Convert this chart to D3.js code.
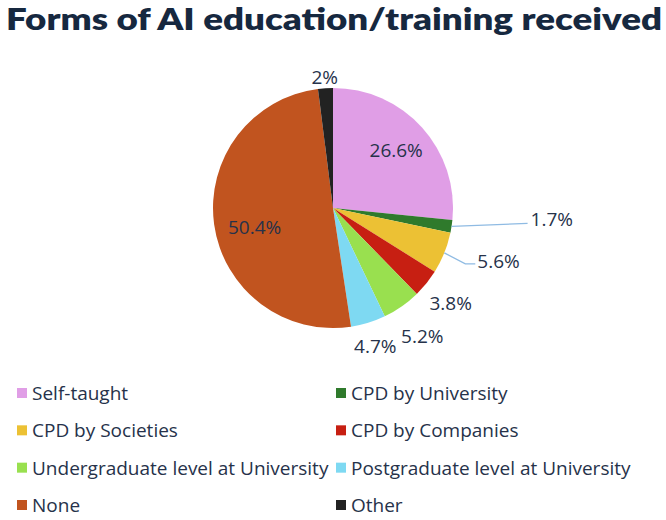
<!DOCTYPE html>
<html lang="en">
<head>
<meta charset="UTF-8">
<title>Forms of AI education/training received</title>
<script src="https://d3js.org/d3.v7.min.js"></script>
<style>
  body { margin: 0; background: #fff; }
  svg text { font-family: 'Open Sans', 'Lato', sans-serif; fill: #26324a; }
</style>
</head>
<body>
<svg width="666" height="520"></svg>
<script>
// data (clockwise from 12 o'clock)
const categories = ["Self-taught", "CPD by University", "CPD by Societies", "CPD by Companies",
  "Undergraduate level at University", "Postgraduate level at University", "None", "Other"];
const shares = [26.6, 1.7, 5.6, 3.8, 5.2, 4.7, 50.4, 2];
const labels = ["26.6%", "1.7%", "5.6%", "3.8%", "5.2%", "4.7%", "50.4%", "2%"];
const colors = ["#e09ee6", "#2f7a2c", "#ecc134", "#c71f12", "#99e04f", "#7ed9f2", "#c1541f", "#222222"];

// label placement: radius factor along slice mid-angle, extra nudge, optional leader
const labelPos = [
  {r: 0.62, dx: 8, dy: -8},
  {r: 1.0, leader: [[76, -3]], dx: 79, dy: -7, anchor: "start"},
  {r: 1.0, leader: [[21, 11], [31, 11]], dx: 33, dy: 8, anchor: "start"},
  {r: 1.26, dx: 0, dy: 0},
  {r: 1.3, dx: 0, dy: 0},
  {r: 1.2, dx: 0, dy: 0},
  {r: 0.66, dx: 0, dy: 8},
  {r: 1.09, dx: 0, dy: 0}
];

const svg = d3.select("svg");
const cx = 333, cy = 208, R = 120;

svg.append("text")
  .attr("x", 6).attr("y", 30)
  .attr("textLength", 656).attr("lengthAdjust", "spacingAndGlyphs")
  .style("font-family", "Lato, sans-serif")
  .style("font-size", "30px").style("font-weight", 800)
  .style("fill", "#16283f")
  .text("Forms of AI education/training received");

const pie = d3.pie().sort(null).value(d => d);
const arcs = pie(shares);
const arc = d3.arc().innerRadius(0).outerRadius(R);

const g = svg.append("g").attr("transform", `translate(${cx},${cy})`);

g.selectAll("path.slice")
  .data(arcs)
  .join("path")
  .attr("class", "slice")
  .attr("d", arc)
  .attr("fill", (d, i) => colors[i]);

function pointAt(d, f) {
  const a = (d.startAngle + d.endAngle) / 2;
  return [Math.sin(a) * R * f, -Math.cos(a) * R * f];
}

arcs.forEach((d, i) => {
  const p = labelPos[i];
  const [x, y] = pointAt(d, p.r);
  if (p.leader) {
    const pts = [[x, y]].concat(p.leader.map(o => [x + o[0], y + o[1]]));
    g.append("path")
      .attr("d", d3.line()(pts))
      .attr("fill", "none")
      .attr("stroke", "#8fbbe3")
      .attr("stroke-width", 1.3);
  }
  g.append("text")
    .attr("x", x + p.dx).attr("y", y + p.dy)
    .attr("text-anchor", p.anchor || "middle")
    .attr("dominant-baseline", "central")
    .style("font-size", "19px")
    .text(labels[i]);
});

// legend, two columns
const legX = [17, 336], legY = d3.scaleLinear().domain([0, 3]).range([393, 505]);
const leg = svg.selectAll("g.leg")
  .data(categories)
  .join("g")
  .attr("class", "leg")
  .attr("transform", (d, i) => `translate(${legX[i % 2]},${legY(Math.floor(i / 2))})`);

leg.append("rect")
  .attr("x", 0).attr("y", -5).attr("width", 10).attr("height", 10)
  .attr("fill", (d, i) => colors[i]);

leg.append("text")
  .attr("x", 15).attr("y", 0)
  .attr("dominant-baseline", "central")
  .style("font-size", "19px")
  .text(d => d);
</script>
</body>
</html>
